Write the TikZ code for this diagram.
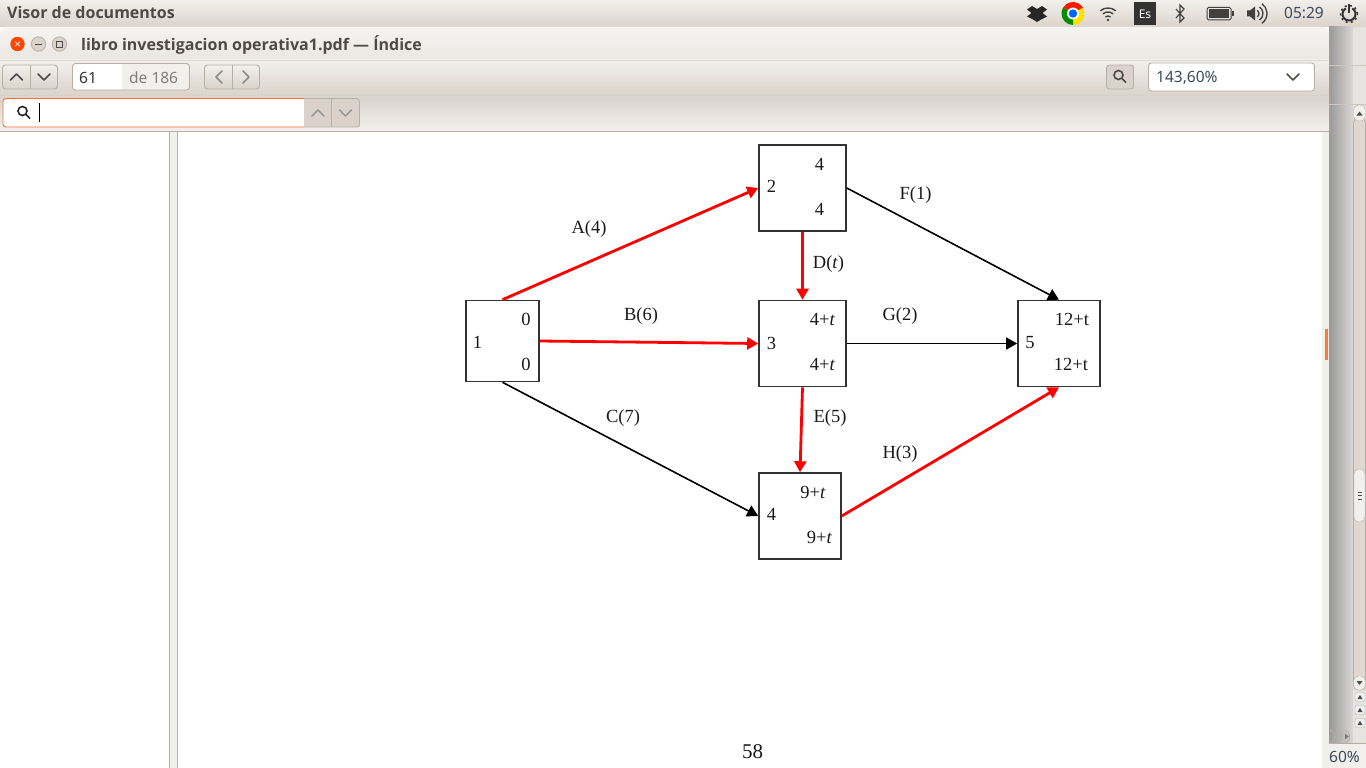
\documentclass[tikz,border=0pt]{standalone}
\usepackage{fontspec}
\setmainfont{Liberation Serif}
\newfontfamily\uifont{Noto Sans}
\newfontfamily\uibold{Open Sans}
\usetikzlibrary{arrows.meta}
\definecolor{uitext}{HTML}{4F4A45}
\definecolor{uiedge}{HTML}{B8AFA5}
\definecolor{uibtn}{HTML}{DBD3CB}
\definecolor{uipale}{HTML}{F2F0ED}
\definecolor{uiblue}{HTML}{3C4A5C}
\tikzset{
  taskbox/.style={draw=black!80,line width=1.6pt,inner sep=0pt,fill=white},
  tasktext/.style={inner sep=0pt,font=\fontsize{18.5}{19}\selectfont,text=black!90},
  redarrow/.style={draw=red,line width=2.8pt,-{Triangle[length=11pt,width=12pt]}},
  blackarrow/.style={draw=black,line width=1.6pt,-{Triangle[length=11pt,width=12pt]}},
  uibutton/.style={draw=uiedge,line width=0.9pt,rounded corners=3pt},
  uilabel/.style={inner sep=0pt,anchor=west,text=uitext,font=\uifont\fontsize{15.5}{16}\selectfont},
  uititle/.style={uilabel,font=\uibold\bfseries\fontsize{16}{16}\selectfont},
  chevron/.style={line width=1.6pt,line cap=round,line join=round}
}
\newcommand{\chevup}[3]{\draw[chevron,#3] (#1-6,#2+3) -- (#1,#2-3) -- (#1+6,#2+3);}
\newcommand{\chevdown}[3]{\draw[chevron,#3] (#1-6,#2-3) -- (#1,#2+3) -- (#1+6,#2-3);}
\newcommand{\lens}[3]{\draw[line width=1.6pt,#3] (#1-1.5,#2-1.5) circle (4.5pt) (#1+2,#2+2) -- (#1+6,#2+6);}
\begin{document}
\begin{tikzpicture}[x=1pt,y=-1pt]
  \useasboundingbox (0,0) rectangle (1366,768);
  % desktop behind the window
  \fill[white] (0,0) rectangle (1366,768);
  \shade[top color=uipale,bottom color=uibtn] (0,0) rectangle (1366,27);
  \shade[left color=black!40,right color=uipale!90!black] (1329,27) rectangle (1353,743);
  \fill[uipale!95!black] (1353,27) rectangle (1366,743);
  \fill[uibtn!90!white] (1353,118) rectangle (1366,690);
  \fill[uipale] (1329,743) rectangle (1366,768);
  \draw[uiedge!70,line width=0.8pt] (1329,65) -- (1366,65) (1329,104.5) -- (1366,104.5);
  \draw[uiedge,line width=0.8pt] (1329,743.5) -- (1366,743.5);
  % window frame
  \shade[top color=uipale!70!white,bottom color=uibtn!50!uipale,rounded corners=6pt] (0,27) rectangle (1329,70);
  \shade[top color=uipale,bottom color=uibtn] (0,60) rectangle (1329,96);
  \shade[top color=uibtn,bottom color=uipale] (0,96) rectangle (1329,131);
  \draw[uiedge!50,line width=0.8pt] (0,60) -- (1329,60) (0,96) -- (1329,96);
  \draw[uiedge,line width=1pt] (0,131) -- (1329,131);
  % content panes
  \fill[uipale] (0,132) rectangle (1329,768);
  \fill[white] (0,132) rectangle (169.5,768);
  \draw[uiedge,line width=0.8pt] (169.5,132) -- (169.5,768) (177.5,132) -- (177.5,768);
  \fill[white] (178,132) rectangle (1322,768);
  \fill[orange!70!red!80] (1325,329) rectangle (1328,360);
  % menu bar
  \node[uititle] (menutitle) at (7,13) {Visor de documentos};
  \node[uilabel,text=uiblue] (clock) at (1284,13) {05:29};
  \fill[black!85] (1027,9.5) -- (1032,6) -- (1037,9) -- (1042,6) -- (1047,9.5) -- (1042.5,13) -- (1047,16.5) -- (1041,19.5) -- (1037,22) -- (1033,19.5) -- (1027,16.5) -- (1031.5,13) -- cycle;
  \fill[red!80!orange] (1073,13.5) -- ++(150:11.5pt) arc[start angle=150,end angle=30,radius=11.5pt] -- cycle;
  \fill[yellow!85!orange] (1073,13.5) -- ++(30:11.5pt) arc[start angle=30,end angle=-90,radius=11.5pt] -- cycle;
  \fill[green!55!black] (1073,13.5) -- ++(-90:11.5pt) arc[start angle=-90,end angle=-210,radius=11.5pt] -- cycle;
  \fill[white] (1073,13.5) circle (6pt);
  \fill[blue!60!cyan] (1073,13.5) circle (4.2pt);
  \foreach \rad in {4,8,12} {
    \draw[black!75,line width=1.4pt] (1108,20) ++(130:\rad pt) arc[start angle=130,end angle=50,radius=\rad pt];
  }
  \fill[black!75] (1108,20) circle (1.3pt);
  \fill[black!80] (1134,2) rectangle (1156,25);
  \node[inner sep=0pt,text=white,font=\uifont\fontsize{12}{12}\selectfont] (langkey) at (1145,14) {Es};
  \draw[black!75,line width=1.1pt] (1176,9) -- (1184,18) -- (1180,22) -- (1180,5) -- (1184,9) -- (1176,18);
  \draw[black!75,line width=1pt,rounded corners=1.5pt] (1207,7.5) rectangle (1231,20);
  \fill[black!75] (1209,9.5) rectangle (1229,18);
  \fill[black!75] (1232,11) rectangle (1233.5,16.5);
  \fill[black!75] (1247,10.5) -- (1250,10.5) -- (1255,6.5) -- (1255,20.5) -- (1250,16.5) -- (1247,16.5) -- cycle;
  \foreach \rad in {4,8,12} {
    \draw[black!75,line width=1.3pt] (1255,13.5) ++(-55:\rad pt) arc[start angle=-55,end angle=55,radius=\rad pt];
  }
  \draw[black!80,line width=2pt] (1349,14) ++(60:6.5pt) arc[start angle=60,end angle=-240,radius=6.5pt];
  \draw[black!80,line width=1.5pt,dash pattern=on 2pt off 3.2pt] (1349,14) circle (8.5pt);
  \draw[black!80,line width=2pt] (1349,4.5) -- (1349,13);
  % title bar
  \fill[orange!55!red] (17.5,44) circle (7.2pt);
  \draw[white!85!black,line width=1pt] (15,41.5) -- (20,46.5) (20,41.5) -- (15,46.5);
  \fill[uibtn] (38.5,44) circle (7.2pt);
  \draw[uiedge,line width=0.8pt] (38.5,44) circle (7.2pt);
  \draw[uitext,line width=0.8pt] (35,44) -- (42,44);
  \fill[uibtn] (59.5,44) circle (7.2pt);
  \draw[uiedge,line width=0.8pt] (59.5,44) circle (7.2pt);
  \draw[uitext,line width=0.8pt] (56.5,41) rectangle (62.5,47);
  \node[uititle] (doctitle) at (81,44.5) {libro investigacion operativa1.pdf — Índice};
  % toolbar
  \shade[uibutton,top color=uipale,bottom color=uibtn] (2.5,65) rectangle (57.5,89);
  \draw[uiedge,line width=0.8pt] (30,65) -- (30,89);
  \chevup{16.5}{77}{uitext}
  \chevdown{44}{77}{uitext}
  \fill[uipale,rounded corners=3pt] (72.5,63.5) rectangle (189.5,90);
  \fill[white,rounded corners=3pt] (72.5,63.5) rectangle (122,90);
  \draw[uibutton] (72.5,63.5) rectangle (189.5,90);
  \node[uilabel,text=black!80] (pagenum) at (79,77.5) {61};
  \node[uilabel,text=black!50] (pagetotal) at (129,77.5) {de 186};
  \shade[uibutton,top color=uipale,bottom color=uibtn] (204.5,65) rectangle (259.5,89);
  \draw[uiedge,line width=0.8pt] (232,65) -- (232,89);
  \draw[chevron,black!45] (222,71) -- (216,77) -- (222,83);
  \draw[chevron,black!45] (243,71) -- (249,77) -- (243,83);
  \fill[uibtn] (1106.5,65) rectangle (1133.5,89);
  \draw[uibutton] (1106.5,65) rectangle (1133.5,89);
  \lens{1120}{76.5}{uitext}
  \fill[white,rounded corners=3pt] (1148.5,63) rectangle (1314.5,91);
  \draw[uibutton] (1148.5,63) rectangle (1314.5,91);
  \node[uilabel,text=uiblue] (zoomlevel) at (1156,77.5) {143,60\%};
  \chevdown{1293}{77}{uitext}
  % find bar
  \fill[white,rounded corners=3pt] (3,98.5) rectangle (310,127);
  \fill[uibtn] (304,98.5) rectangle (359.5,127);
  \draw[orange!60!red!80,line width=0.9pt,rounded corners=3pt] (304,98.5) -- (3,98.5) -- (3,127) -- (304,127);
  \draw[uiedge,line width=0.9pt,rounded corners=3pt] (304,98.5) -- (359.5,98.5) -- (359.5,127) -- (304,127);
  \draw[uiedge,line width=0.8pt] (331.5,98.5) -- (331.5,127);
  \lens{24}{112.5}{black!85}
  \draw[black,line width=1pt] (39.5,103) -- (39.5,122);
  \chevup{318}{113}{black!40}
  \chevdown{345.5}{113}{black!40}
  % scroll bar of the window behind
  \draw[uiedge,line width=0.8pt,rounded corners=5pt] (1353.5,690) -- (1353.5,118) -- (1365.5,118) -- (1365.5,690) -- cycle;
  \fill[uipale,rounded corners=5pt,draw=uiedge] (1353.5,105) rectangle (1365.5,121);
  \fill[uitext] (1356.5,115.5) -- (1362.5,115.5) -- (1359.5,111.5) -- cycle;
  \fill[uipale,rounded corners=5pt,draw=uiedge] (1354,469) rectangle (1365,522);
  \draw[uitext,line width=0.6pt] (1357.5,492) -- (1361.5,492) (1357.5,495.5) -- (1361.5,495.5) (1357.5,499) -- (1361.5,499);
  \fill[uipale,rounded corners=5pt,draw=uiedge] (1353.5,676) rectangle (1365.5,690);
  \fill[uitext] (1356.5,681) -- (1362.5,681) -- (1359.5,685) -- cycle;
  \foreach \ypos in {697,710,723} {
    \fill[uipale,rounded corners=2pt,draw=uiedge] (1355,\ypos-4.5) rectangle (1365,\ypos+4.5);
    \fill[uiblue] (1357.5,\ypos+2) -- (1362.5,\ypos+2) -- (1360,\ypos-2) -- cycle;
  }
  \node[uilabel,text=uiblue] (statuszoom) at (1329,757) {60\%};
  \draw[uiedge,line width=0.8pt] (1330,730) arc[start angle=70,end angle=-70,radius=7pt];
  \draw[uiedge,line width=0.8pt] (1337,730) arc[start angle=70,end angle=-70,radius=7pt];
  \draw[uiedge,line width=0.8pt] (1345,730) arc[start angle=70,end angle=-70,radius=7pt];
  \fill[uitext!70] (1345,733.5) -- (1349,736.5) -- (1345,739.5) -- cycle;
  % boxes
  \node[taskbox,minimum width=73pt,minimum height=81pt] (n1) at (502.5,341) {};
  \node[taskbox,minimum width=87pt,minimum height=86pt] (n2) at (802.5,188) {};
  \node[taskbox,minimum width=87pt,minimum height=86pt] (n3) at (802.5,343.5) {};
  \node[taskbox,minimum width=82pt,minimum height=86pt] (n4) at (800,516) {};
  \node[taskbox,minimum width=82pt,minimum height=86pt] (n5) at (1059,343.5) {};
  % arcs
  \draw[redarrow] (n1.north) -- (n2.west);
  \draw[redarrow] (n1.east) -- (n3.west);
  \draw[blackarrow] (n1.south) -- (n4.west);
  \draw[redarrow] (n2.south) -- (n3.north);
  \draw[redarrow] (n3.south) -- (n4.north);
  \draw[blackarrow] (n2.east) -- (n5.north);
  \draw[blackarrow] (n3.east) -- (n5.west);
  \draw[redarrow] (n4.east) -- (n5.south);
  % numbers in the boxes
  \node[tasktext] (num1) at (477.5,342.5) {1};
  \node[tasktext] (es1) at (526,319.5) {0};
  \node[tasktext] (ls1) at (526,364.5) {0};
  \node[tasktext] (num2) at (771.5,186.5) {2};
  \node[tasktext] (es2) at (819.5,164.5) {4};
  \node[tasktext] (ls2) at (819.5,209.5) {4};
  \node[tasktext] (num3) at (771.5,343) {3};
  \node[tasktext] (es3) at (822.5,319.5) {4+\textit{t}};
  \node[tasktext] (ls3) at (822.5,364.5) {4+\textit{t}};
  \node[tasktext] (num4) at (771.5,514.5) {4};
  \node[tasktext] (es4) at (813,492.5) {9+\textit{t}};
  \node[tasktext] (ls4) at (819.5,537.5) {9+\textit{t}};
  \node[tasktext] (num5) at (1030,342.5) {5};
  \node[tasktext] (es5) at (1072,319.5) {12+t};
  \node[tasktext] (ls5) at (1071,364.5) {12+t};
  % activity labels
  \node[tasktext] (lblA) at (589,229) {A(4)};
  \node[tasktext] (lblB) at (641,316) {B(6)};
  \node[tasktext] (lblC) at (623,418.5) {C(7)};
  \node[tasktext] (lblD) at (828.5,264) {D(\textit{t})};
  \node[tasktext] (lblE) at (830,418.5) {E(5)};
  \node[tasktext] (lblF) at (915.5,195) {F(1)};
  \node[tasktext] (lblG) at (900,316) {G(2)};
  \node[tasktext] (lblH) at (900,454) {H(3)};
  \node[tasktext,font=\fontsize{21}{22}\selectfont] (pagefoot) at (752.5,751.5) {58};
\end{tikzpicture}
\end{document}
